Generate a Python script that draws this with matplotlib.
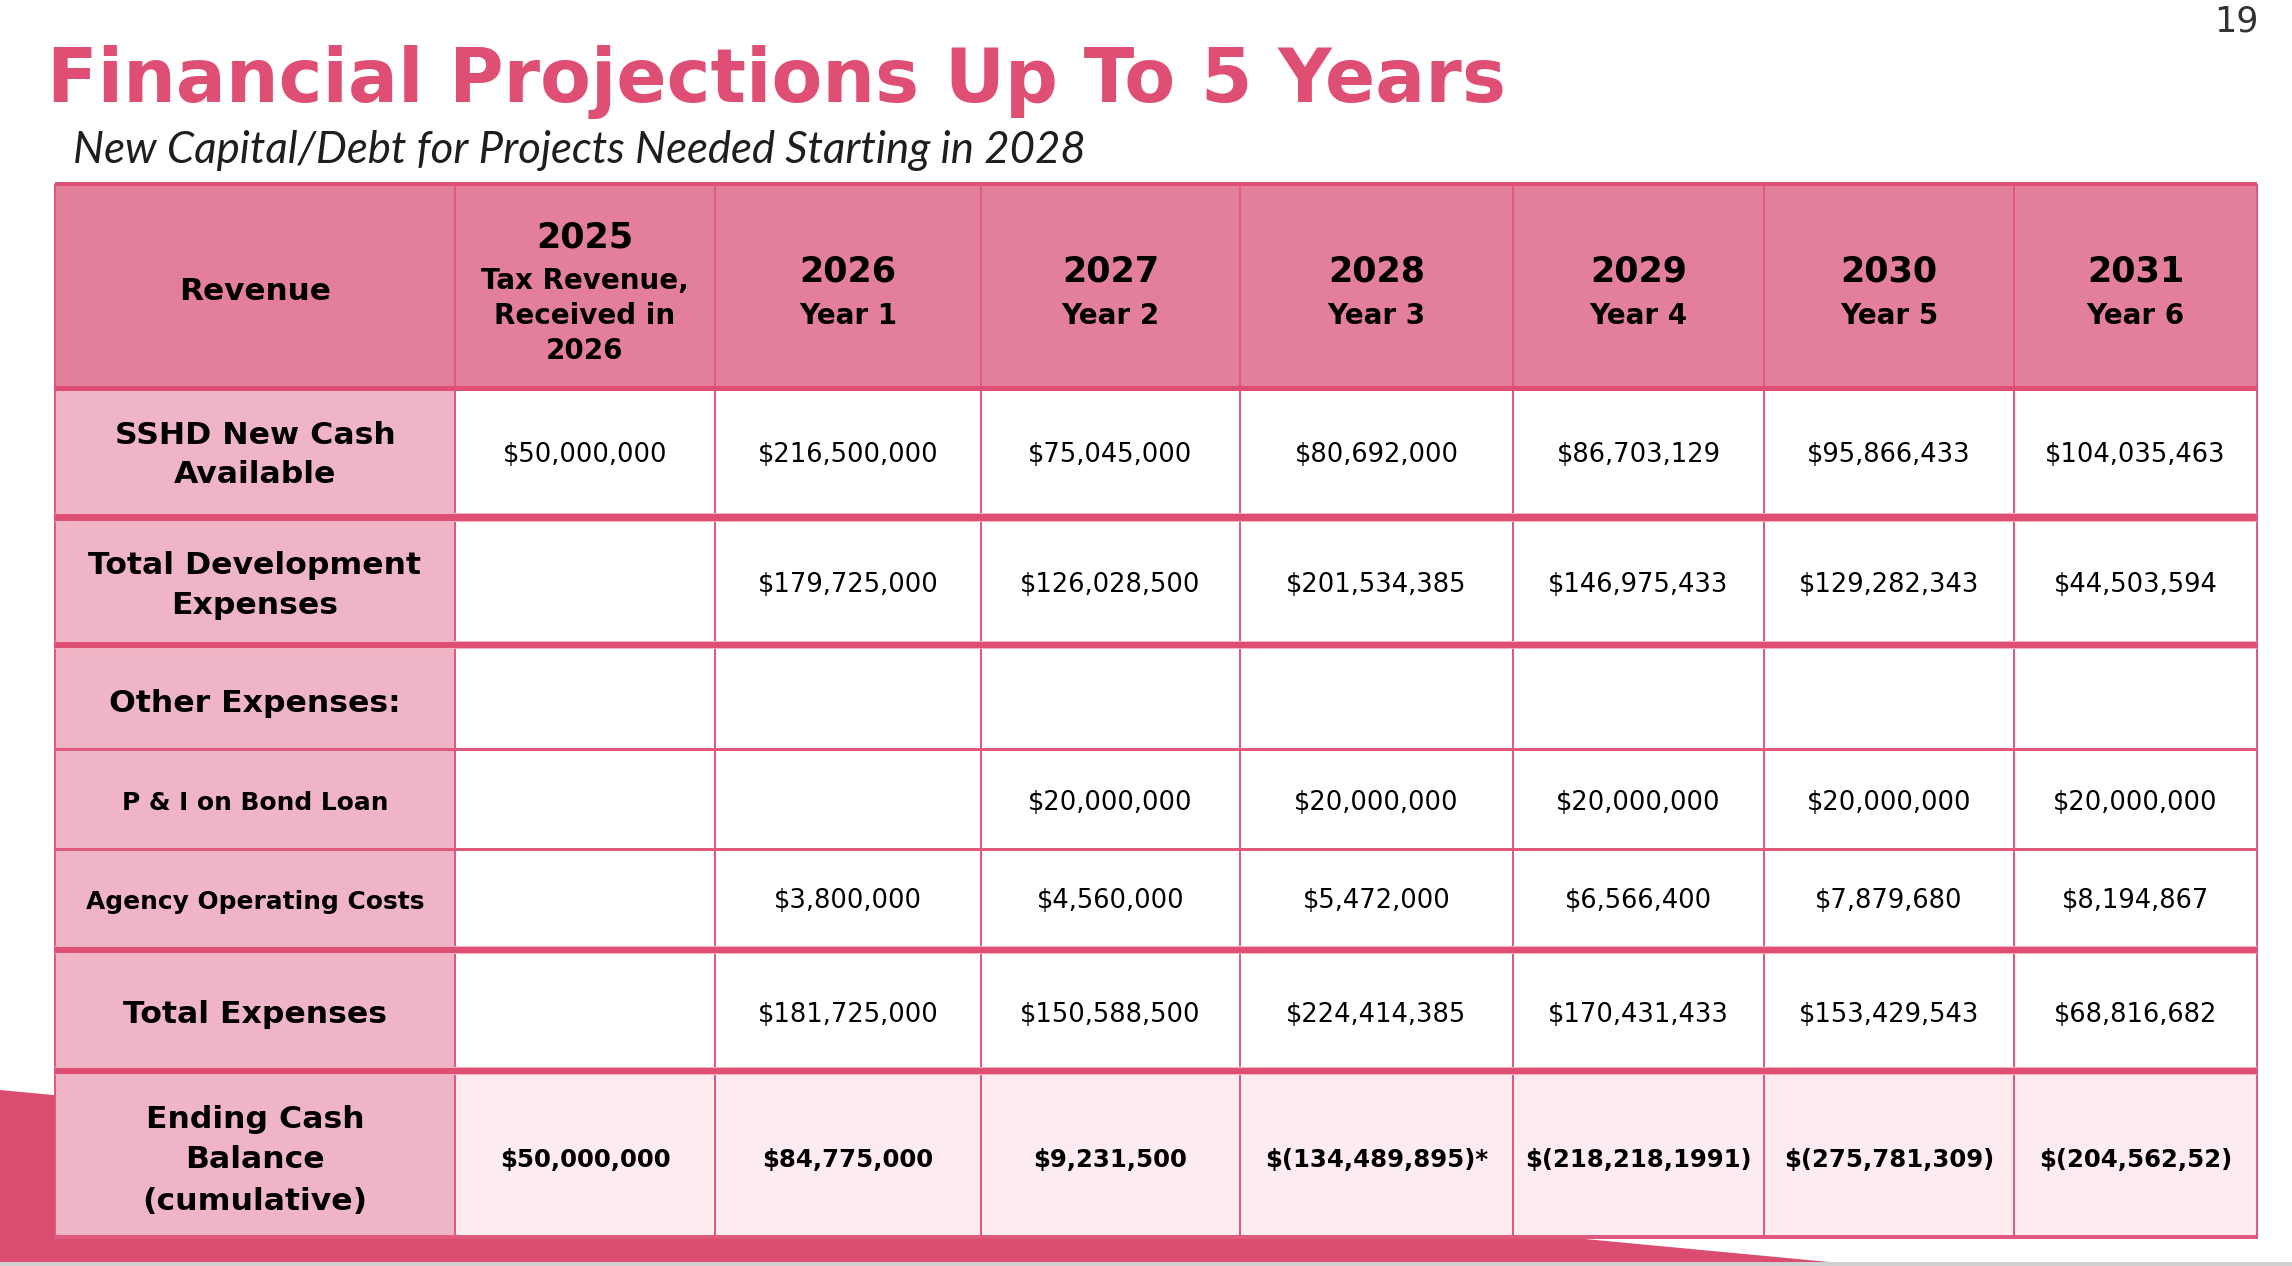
import matplotlib
matplotlib.use("Agg")
import matplotlib.pyplot as plt
from matplotlib.patches import Rectangle, Polygon

# ---------------- data ----------------
title = "Financial Projections Up To 5 Years"
subtitle = "New Capital/Debt for Projects Needed Starting in 2028"
page_no = "19"
corner_label = "Revenue"
years = ["2025", "2026", "2027", "2028", "2029", "2030", "2031"]
year_subs = ["Tax Revenue,\nReceived in\n2026", "Year 1", "Year 2", "Year 3",
             "Year 4", "Year 5", "Year 6"]
row_labels = ["SSHD New Cash\nAvailable", "Total Development\nExpenses",
              "Other Expenses:", "P & I on Bond Loan", "Agency Operating Costs",
              "Total Expenses", "Ending Cash\nBalance\n(cumulative)"]
sshd_cash = ["$50,000,000", "$216,500,000", "$75,045,000", "$80,692,000",
             "$86,703,129", "$95,866,433", "$104,035,463"]
total_dev = ["", "$179,725,000", "$126,028,500", "$201,534,385",
             "$146,975,433", "$129,282,343", "$44,503,594"]
other_exp = ["", "", "", "", "", "", ""]
pi_bond = ["", "", "$20,000,000", "$20,000,000", "$20,000,000",
           "$20,000,000", "$20,000,000"]
agency_costs = ["", "$3,800,000", "$4,560,000", "$5,472,000", "$6,566,400",
                "$7,879,680", "$8,194,867"]
total_exp = ["", "$181,725,000", "$150,588,500", "$224,414,385",
             "$170,431,433", "$153,429,543", "$68,816,682"]
ending_cash = ["$50,000,000", "$84,775,000", "$9,231,500", "$(134,489,895)*",
               "$(218,218,1991)", "$(275,781,309)", "$(204,562,52)"]
rows = [sshd_cash, total_dev, other_exp, pi_bond, agency_costs, total_exp, ending_cash]

# ---------------- layout (pixels) ----------------
W, H = 2292, 1266
col_edges = [55, 455, 715, 981, 1240, 1513, 1764, 2014, 2257]
head_top, head_bot = 184, 388
row_spans = [(389, 513), (522, 641), (649, 749), (749, 849), (849, 946),
             (954, 1067), (1075, 1237)]
sep_after = ["thick", "thick", "thin", "thin", "thick", "thick", None]
small_label = [False, False, False, True, True, False, False]
DY = 4  # visual centering offset for table text

PINK = "#DF4E73"
HEAD = "#E37F9B"
LABEL = "#EFB5C6"
LAST = "#FCEBEF"
GRID = "#E05A7E"
FONT = "DejaVu Sans"

fig = plt.figure(figsize=(W / 100, H / 100), dpi=100)
ax = fig.add_axes([0, 0, 1, 1])
ax.set_xlim(0, W)
ax.set_ylim(H, 0)
ax.axis("off")
renderer = fig.canvas.get_renderer()


def fit(s, target, **kw):
    t = ax.text(0, 0, s, fontsize=20, **kw)
    w = t.get_window_extent(renderer).width
    t.remove()
    return 20 * target / w


def rect(x0, y0, x1, y1, color, z=1):
    ax.add_patch(Rectangle((x0, y0), x1 - x0, y1 - y0, facecolor=color,
                           edgecolor="none", zorder=z))


def lines_text(cx, cy, s, spacing, **kw):
    parts = s.split("\n")
    n = len(parts)
    for i, p in enumerate(parts):
        ax.text(cx, cy + DY + (i - (n - 1) / 2) * spacing, p, ha="center",
                va="center", zorder=10, **kw)


# background decoration
ax.add_patch(Polygon([(0, 1090), (1840, 1263), (0, 1263)], closed=True,
                     facecolor="#DB4D70", edgecolor="none", zorder=0))
rect(0, 1262, W, H, "#D0D0D0", 0.5)

# title / subtitle / page number
fs_title = fit(title, 1462, family=FONT, fontweight="bold")
ax.text(47, 102, title, fontsize=fs_title, family=FONT, fontweight="bold",
        color=PINK, ha="left", va="baseline")
sub_kw = dict(family="Lato", fontstyle="italic", fontweight="normal")
fs_sub = fit(subtitle, 1013, **sub_kw)
ax.text(73, 163, subtitle, fontsize=fs_sub, color="#1E1E1E", ha="left",
        va="baseline", **sub_kw)
ax.text(2236, 31, page_no, fontsize=25, family=FONT, color="#333333",
        ha="center", va="baseline")

# header
rect(col_edges[0], head_top, col_edges[-1], head_bot, HEAD)
fs_year = fit("2025", 98, family=FONT, fontweight="bold")
fs_hsub = fit("Tax Revenue,", 208, family=FONT, fontweight="bold")
fs_corner = fit(corner_label, 152, family=FONT, fontweight="bold")
ax.text((col_edges[0] + col_edges[1]) / 2, 287 + DY, corner_label,
        fontsize=fs_corner, family=FONT, fontweight="bold", ha="center",
        va="center", zorder=10)
for j, (yr, sub) in enumerate(zip(years, year_subs)):
    cx = (col_edges[j + 1] + col_edges[j + 2]) / 2
    nsub = len(sub.split("\n"))
    ax.text(cx, (233 if nsub > 1 else 268) + DY, yr, fontsize=fs_year,
            family=FONT, fontweight="bold", ha="center", va="center", zorder=10)
    lines_text(cx, 312, sub, 35, fontsize=fs_hsub, family=FONT,
               fontweight="bold")

# body
fs_lab = fit("Total Development", 333, family=FONT, fontweight="bold")
fs_lab_s = fit("Agency Operating Costs", 338, family=FONT, fontweight="bold")
fs_val = fit("$50,000,000", 164, family=FONT)
fs_val_b = fit("$50,000,000", 172, family=FONT, fontweight="bold")
n_rows = len(rows)
for i, (vals, (y0, y1)) in enumerate(zip(rows, row_spans)):
    last = i == n_rows - 1
    rect(col_edges[0], y0, col_edges[1], y1, LABEL)
    rect(col_edges[1], y0, col_edges[-1], y1, LAST if last else "white")
    cy = (y0 + y1) / 2
    lab = row_labels[i]
    nl = len(lab.split("\n"))
    lines_text((col_edges[0] + col_edges[1]) / 2, cy, lab,
               41 if nl > 2 else 39,
               fontsize=fs_lab_s if small_label[i] else fs_lab,
               family=FONT, fontweight="bold")
    for j, v in enumerate(vals):
        if not v:
            continue
        cx = (col_edges[j + 1] + col_edges[j + 2]) / 2
        ax.text(cx, cy + DY, v, fontsize=fs_val_b if last else fs_val,
                family=FONT, fontweight="bold" if last else "normal",
                ha="center", va="center", zorder=10)
    # separators
    kind = sep_after[i]
    if kind == "thick":
        nxt = row_spans[i + 1][0]
        rect(col_edges[0], y1, col_edges[-1], nxt, PINK, 5)
        rect(col_edges[0], y1, col_edges[-1], y1 + 1, "#F2B3C3", 6)
        rect(col_edges[0], nxt - 1, col_edges[-1], nxt, "#F2B3C3", 6)
    elif kind == "thin":
        rect(col_edges[0], y1 - 1.5, col_edges[-1], y1 + 1.5, GRID, 5)

# header bottom and top lines
rect(col_edges[0], head_bot - 2.5, col_edges[-1], head_bot + 2.5, PINK, 5)
rect(col_edges[0], head_top - 2, col_edges[-1], head_top + 2, PINK, 5)
rect(col_edges[0], 1235, col_edges[-1], 1239, GRID, 5)

# vertical grid lines
bottom = row_spans[-1][1]
for k, x in enumerate(col_edges):
    rect(x - 1.2, head_top, x + 1.2, bottom + 2, GRID, 4)

fig.savefig("out.png", dpi=100)
